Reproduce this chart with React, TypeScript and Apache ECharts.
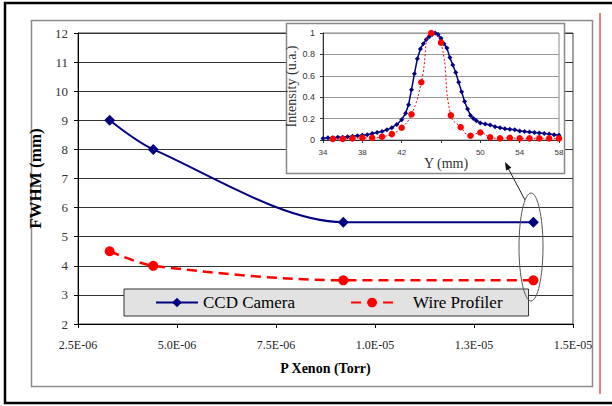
import React, { useEffect, useRef } from "react";
import * as echarts from "echarts";

// Main chart data
const PRESSURE_TORR = [3.3e-6, 4.4e-6, 9.2e-6, 1.4e-5];
const CCD_FWHM = [9, 8, 5.5, 5.5];
const WIRE_FWHM = [4.5, 4.0, 3.5, 3.5];
const X_TICK_LABELS = ["2.5E-06", "5.0E-06", "7.5E-06", "1.0E-05", "1.3E-05", "1.5E-05"];

// Inset profile data
const CCD_PROFILE_Y = [
  34.0, 34.5, 35.0, 35.5, 36.0, 36.5, 37.0, 37.5, 38.0, 38.5, 39.0, 39.5, 40.0, 40.5, 41.0, 41.5,
  42.0, 42.4, 42.7, 43.0, 43.3, 43.6, 43.9, 44.2, 44.5, 44.8, 45.1, 45.4, 45.7, 46.0, 46.3, 46.6,
  46.9, 47.2, 47.5, 47.8, 48.1, 48.4, 48.7, 49.0, 49.3, 49.6, 50.0, 50.5, 51.0, 51.5, 52.0, 52.5,
  53.0, 53.5, 54.0, 54.5, 55.0, 55.5, 56.0, 56.5, 57.0, 57.5, 58.0,
];
const CCD_PROFILE_I = [
  0.015, 0.02, 0.02, 0.025, 0.025, 0.03, 0.035, 0.04, 0.045, 0.05, 0.06, 0.07, 0.08, 0.095, 0.115, 0.145,
  0.19, 0.25, 0.33, 0.47, 0.62, 0.76, 0.85, 0.9, 0.94, 0.965, 0.985, 1.0, 0.985, 0.95, 0.9, 0.86,
  0.77, 0.7, 0.63, 0.54, 0.45, 0.36, 0.29, 0.23, 0.2, 0.18, 0.16, 0.15, 0.14, 0.125, 0.115, 0.105,
  0.1, 0.095, 0.085, 0.08, 0.075, 0.07, 0.065, 0.06, 0.055, 0.05, 0.045,
];
const WIRE_PROFILE_Y = [
  35, 36, 37, 38, 39, 40, 41, 42, 43, 44, 45, 46, 47, 48, 49, 50, 51, 52, 53, 54, 55, 56, 57, 58,
];
const WIRE_PROFILE_I = [
  0.01, 0.01, 0.015, 0.02, 0.02, 0.03, 0.055, 0.115, 0.24, 0.54, 1.0, 0.91, 0.23, 0.12, 0.04, 0.07,
  0.025, 0.015, 0.02, 0.015, 0.015, 0.015, 0.015, 0.015,
];
const INSET_X_LABELS = [34, 38, 42, 50, 54, 58];
const INSET_X_TICKS = [34, 38, 42, 46, 50, 54, 58];

const SERIF = "Liberation Serif";
const SANS = "Liberation Sans";

export default function App() {
  const ref = useRef<HTMLDivElement>(null);
  useEffect(() => {
    if (!ref.current) return;
    const chart = echarts.init(ref.current, null, { renderer: "svg" });
    const zip = (xs: number[], ys: number[]) => xs.map((x, i) => [x, ys[i]]);
    chart.setOption({
      animation: false,
      backgroundColor: "#fff",
      textStyle: { fontFamily: SERIF },
      grid: [
        { left: 78, top: 33, right: 39, bottom: 82, show: true, borderColor: "#444", borderWidth: 1, z: 0 },
        { left: 323, top: 33, width: 236, height: 107, show: true, borderColor: "#888", borderWidth: 1, backgroundColor: "#fff", z: 5 },
      ],
      xAxis: [
        {
          type: "value", gridIndex: 0, min: 2.5e-6, max: 1.5e-5, interval: 2.5e-6,
          axisLine: { show: true, lineStyle: { color: "#000", width: 1 } },
          axisTick: { show: true, inside: false, length: 4, lineStyle: { color: "#000" } },
          axisLabel: {
            formatter: (_v: number, i: number) => X_TICK_LABELS[i] ?? "",
            fontFamily: SERIF, fontSize: 12, color: "#222", margin: 15,
          },
          splitLine: { show: false },
          name: "P Xenon (Torr)", nameLocation: "middle", nameGap: 37,
          nameTextStyle: { fontFamily: SERIF, fontSize: 14, fontWeight: "bold", color: "#000" },
        },
        {
          type: "value", gridIndex: 1, min: 34, max: 58,
          axisLine: { show: true, lineStyle: { color: "#333", width: 1 } },
          axisTick: { show: true, length: 3, customValues: INSET_X_TICKS, lineStyle: { color: "#333" } },
          axisLabel: { customValues: INSET_X_LABELS, fontFamily: SANS, fontSize: 8, color: "#333", margin: 8 },
          splitLine: { show: false },
          name: "Y (mm)", nameLocation: "middle", nameGap: 12,
          nameTextStyle: { fontFamily: SERIF, fontSize: 14, color: "#333", padding: [0, 0, 0, 10] },
          z: 5,
        },
      ],
      yAxis: [
        {
          type: "value", gridIndex: 0, min: 2, max: 12, interval: 1,
          axisLine: { show: true, lineStyle: { color: "#000", width: 1 } },
          axisTick: { show: true, length: 4, lineStyle: { color: "#000" } },
          axisLabel: { fontFamily: SERIF, fontSize: 13, color: "#333", margin: 10 },
          splitLine: { show: true, lineStyle: { color: "#333", width: 1 } },
          name: "FWHM (mm)", nameLocation: "middle", nameGap: 25,
          nameTextStyle: { fontFamily: SERIF, fontSize: 17, fontWeight: "bold", color: "#000" },
        },
        {
          type: "value", gridIndex: 1, min: 0, max: 1, interval: 0.2,
          axisLine: { show: true, lineStyle: { color: "#333", width: 1 } },
          axisTick: { show: true, length: 3, lineStyle: { color: "#333" } },
          axisLabel: { fontFamily: SANS, fontSize: 9, color: "#333", margin: 8 },
          splitLine: { show: true, lineStyle: { color: "#999", width: 1 } },
          name: "Intensity (u.a.)", nameLocation: "middle", nameGap: 15,
          nameTextStyle: { fontFamily: SERIF, fontSize: 14, color: "#333" },
          z: 5,
        },
      ],
      legend: {
        show: true, left: 124, top: 289, orient: "horizontal",
        padding: [5, 26, 5, 31], itemWidth: 42, itemHeight: 12, itemGap: 55,
        backgroundColor: "#e2e2e2", borderColor: "#333", borderWidth: 1,
        textStyle: { fontFamily: SERIF, fontSize: 17, color: "#000" },
        data: [{ name: "CCD Camera" }, { name: "Wire Profiler", textStyle: { padding: [0, 0, 0, 15] } }],
      },
      graphic: [
        { type: "rect", silent: true, z: 0, shape: { x: 5, y: 3, width: 640, height: 400 }, style: { fill: "none", stroke: "#000", lineWidth: 2.5 } },
        { type: "rect", silent: true, z: 0, shape: { x: 31.5, y: 20.5, width: 561, height: 366 }, style: { fill: "none", stroke: "#8c8c8c", lineWidth: 1.5 } },
        { type: "line", silent: true, z: 0, shape: { x1: 600, y1: 13, x2: 600, y2: 394 }, style: { stroke: "#e00000", lineWidth: 1 } },
        { type: "rect", silent: true, z: 3, shape: { x: 286.5, y: 23.5, width: 278, height: 150 }, style: { fill: "#fff", stroke: "#888", lineWidth: 1.5 } },
        { type: "line", silent: true, z: 10, shape: { x1: 525, y1: 200, x2: 508, y2: 168 }, style: { stroke: "#222", lineWidth: 1 } },
        { type: "polygon", silent: true, z: 10, shape: { points: [[505, 162], [511.4, 167.7], [506.1, 170.5]] }, style: { fill: "#111" } },
        { type: "ellipse", silent: true, z: 10, shape: { cx: 531, cy: 247, rx: 12, ry: 54 }, style: { fill: "none", stroke: "#555", lineWidth: 1 } },
      ],
      series: [
        {
          name: "CCD Camera", type: "line", xAxisIndex: 0, yAxisIndex: 0, smooth: 0.3,
          data: zip(PRESSURE_TORR, CCD_FWHM), symbol: "diamond", symbolSize: 11,
          itemStyle: { color: "#000080" }, lineStyle: { color: "#000080", width: 2 }, z: 2,
        },
        {
          name: "Wire Profiler", type: "line", xAxisIndex: 0, yAxisIndex: 0, smooth: 0.3,
          data: zip(PRESSURE_TORR, WIRE_FWHM), symbol: "circle", symbolSize: 10,
          itemStyle: { color: "#ff0000" }, lineStyle: { color: "#ff0000", width: 2.5, type: [10, 6] }, z: 2,
        },
        {
          name: "CCD profile", type: "line", xAxisIndex: 1, yAxisIndex: 1, smooth: false,
          data: zip(CCD_PROFILE_Y, CCD_PROFILE_I), symbol: "diamond", symbolSize: 5, showAllSymbol: true,
          itemStyle: { color: "#000080" }, lineStyle: { color: "#000080", width: 1.5 }, z: 6,
        },
        {
          name: "Wire profile", type: "line", xAxisIndex: 1, yAxisIndex: 1, smooth: true,
          data: zip(WIRE_PROFILE_Y, WIRE_PROFILE_I), symbol: "circle", symbolSize: 6.5,
          itemStyle: { color: "#ff0000" }, lineStyle: { color: "#ff0000", width: 1, type: [2, 2] }, z: 7,
        },
      ],
    });
    return () => chart.dispose();
  }, []);
  return (
    <div
      ref={ref}
      style={{ position: "absolute", left: 0, top: 0, width: 612, height: 406, background: "#fff" }}
    />
  );
}
